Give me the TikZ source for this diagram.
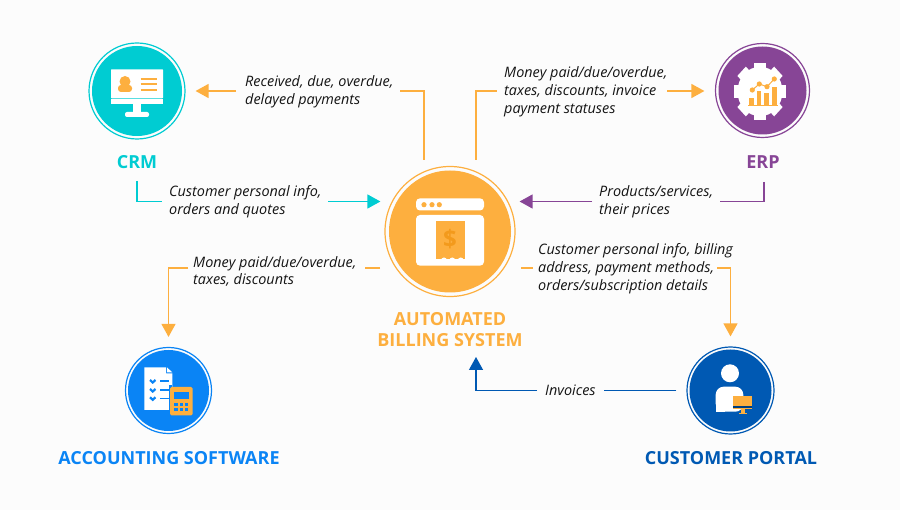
\documentclass[tikz,border=0pt]{standalone}
\usepackage{fontspec}
\setmainfont{Open Sans}
\usetikzlibrary{arrows.meta, positioning, calc}
\definecolor{bgcol}{HTML}{FCFCFC}
\definecolor{cyancol}{HTML}{00CCD2}
\definecolor{orangecol}{HTML}{FDAF3F}
\definecolor{darkorange}{HTML}{F39A1C}
\definecolor{purplecol}{HTML}{874596}
\definecolor{bluecol}{HTML}{0A84F5}
\definecolor{navycol}{HTML}{0059B3}

\begin{document}
\begin{tikzpicture}[x=1pt, y=-1pt]
        \tikzstyle{hub} = [circle, inner sep=0pt, line width=1.2pt, fill=bgcol]
        \tikzstyle{lbl} = [anchor=west, align=left, inner sep=0pt, font=\fontsize{14.4}{17.8}\selectfont\itshape, text=black!92]
        \tikzstyle{title} = [align=center, inner sep=0pt, font=\fontsize{18}{21}\selectfont\bfseries]
        \tikzstyle{flow} = [line width=1.3pt]
        \tikzstyle{arrow} = [line width=1.3pt, -{Triangle[length=13pt,width=14pt]}]

        \useasboundingbox (0,0) rectangle (900,510);
        \fill[bgcol] (0,0) rectangle (900,510);

        % hubs
        \node (crm) [hub, draw=cyancol, minimum size=96pt] at (137,91) {};
        \node (erp) [hub, draw=purplecol, minimum size=94pt] at (762.5,90.5) {};
        \node (abs) [hub, draw=orangecol, minimum size=130pt] at (450,231.5) {};
        \node (acc) [hub, draw=bluecol, minimum size=86pt] at (168.5,390.5) {};
        \node (portal) [hub, draw=navycol, minimum size=87pt] at (730.5,390.5) {};
        \fill[cyancol] (crm) circle (45);
        \fill[purplecol] (erp) circle (44);
        \fill[orangecol] (abs) circle (61);
        \fill[bluecol] (acc) circle (40.5);
        \fill[navycol] (portal) circle (41);

        % titles
        \node (crmtitle) [title, text=cyancol] at (137,162.5) {CRM};
        \node (erptitle) [title, text=purplecol] at (763,162.5) {ERP};
        \node (abstitle) [title, text=orangecol] at (450,330) {AUTOMATED\\BILLING SYSTEM};
        \node (acctitle) [title, text=bluecol] at (169,458) {ACCOUNTING SOFTWARE};
        \node (portaltitle) [title, text=navycol] at (731,458) {CUSTOMER PORTAL};

        % labels
        \node (lblcrm) [lbl] at (245,92) {Received, due, overdue,\\delayed payments};
        \node (lblerp) [lbl] at (504,92) {Money paid/due/overdue,\\taxes, discounts, invoice\\payment statuses};
        \node (lblcust) [lbl] at (169,202) {Customer personal info,\\orders and quotes};
        \node (lblprod) [lbl] at (599,202) {Products/services,\\their prices};
        \node (lblacc) [lbl] at (193,271.5) {Money paid/due/overdue,\\taxes, discounts};
        \node (lblportal) [lbl] at (538,269) {Customer personal info, billing\\address, payment methods,\\orders/subscription details};
        \node (lblinv) [lbl] at (545,390) {Invoices};

        % line ends beside the labels
        \coordinate (a1) at (424,160);
        \coordinate (a2) at (400,91);
        \coordinate (a3) at (236,91);
        \coordinate (b1) at (476,160);
        \coordinate (b2) at (497,91);
        \coordinate (b3) at (667,91);
        \coordinate (c1) at (137,181);
        \coordinate (c2) at (161.5,201.5);
        \coordinate (c3) at (328,201.5);
        \coordinate (d1) at (764,182);
        \coordinate (d2) at (720,201.5);
        \coordinate (d3) at (592,201.5);
        \coordinate (e1) at (380,268);
        \coordinate (e2) at (365,268);
        \coordinate (e3) at (188,268);
        \coordinate (f1) at (521,268);
        \coordinate (f2) at (533,268);
        \coordinate (f3) at (717,268);
        \coordinate (g1) at (604,390.5);
        \coordinate (g2) at (537,390.5);
        \coordinate (g3) at (476,357);

        % connectors
        \draw [flow, orangecol] (a1) |- (a2);
        \draw [arrow, orangecol, shorten >=10pt] (a3) -- (crm.east);
        \draw [flow, orangecol] (b1) |- (b2);
        \draw [arrow, orangecol, shorten >=10.5pt] (b3) -- (erp.west |- b3);
        \draw [flow, cyancol] (c1) |- (c2);
        \draw [arrow, cyancol, shorten >=4pt] (c3) -- (abs.west |- c3);
        \draw [flow, purplecol] (d1) |- (d2);
        \draw [arrow, purplecol, shorten >=4pt] (d3) -- (abs.east |- d3);
        \draw [flow, orangecol] (e1) -- (e2);
        \draw [arrow, orangecol, shorten >=10pt] (e3) -| (acc.north);
        \draw [flow, orangecol] (f1) -- (f2);
        \draw [arrow, orangecol, shorten >=10pt] (f3) -| (portal.north);
        \draw [flow, navycol, shorten <=10pt] (portal.west) -- (g1);
        \draw [arrow, navycol] (g2) -| (g3);

        % crm icon
        \fill[white, rounded corners=0.7pt] (111,69.3) rectangle (163,98.3);
        \fill[white] (111,99.4) rectangle (163,104);
        \fill[white] (132.7,104) rectangle (141.3,113);
        \fill[white, rounded corners=2pt] (125,112) rectangle (149,117);
        \fill[orangecol] (125,81.5) circle (5.5);
        \fill[orangecol, rounded corners=3pt] (118,92) -- (118,85) -- (132,85) -- (132,92) -- cycle;
        \foreach \y in {79,84.5,90.3}
            \draw[orangecol, line width=2pt] (140.7,\y) -- (156.7,\y);

        % erp icon
        \begin{scope}[shift={(760,91.5)}, yscale=1.1]
            \fill[white] (0,0) circle (22.5);
            \foreach \a in {0,45,...,315}
                \fill[white, rotate=\a] (-6,-26) rectangle (6,-15);
        \end{scope}
        \fill[orangecol] (749.3,98.3) rectangle (754,105);
        \fill[orangecol] (756.7,91) rectangle (761.3,105);
        \fill[orangecol] (764,93.3) rectangle (769.3,105);
        \fill[orangecol] (771.7,86.7) rectangle (776.7,105);
        \draw[orangecol, line width=1pt] (748,105.7) -- (777.7,105.7);
        \draw[orangecol, line width=1pt] (752.3,90) -- (759.3,84) -- (767,86.7) -- (774.3,79);
        \foreach \p in {(752.3,90),(759.3,84),(767,86.7),(774.3,79)}
            \fill[orangecol] \p circle (2.6);

        % billing icon
        \fill[white, rounded corners=4pt] (416,198.3) -- (484,198.3) -- (484,210.5) -- (416,210.5) -- cycle;
        \fill[white, rounded corners=4pt] (416,215) -- (484,215) -- (484,265.7) -- (416,265.7) -- cycle;
        \foreach \x in {424,432,439.3}
            \fill[orangecol] (\x,204.7) circle (2.6);
        \fill[orangecol] (435.7,221) rectangle (464.7,259.5);
        \foreach \x in {444,452.3,460.7}
            \fill[white] (\x,260.5) circle (3);
        \node (dollar) [inner sep=0pt, text=darkorange, font=\fontsize{24}{24}\selectfont\bfseries] at (450,239.5) {\$};

        % accounting icon
        \fill[white] (144.3,367.3) -- (166,367.3) -- (166,373.5) -- (172.3,373.5) -- (172.3,410) -- (144.3,410) -- cycle;
        \fill[white] (167,367.3) -- (172.3,372.5) -- (167,372.5) -- cycle;
        \foreach \y in {381,390,398.3} {
            \draw[bluecol, line width=2.2pt] (150,\y-1) -- (152.7,\y+1.5) -- (155.5,\y-1);
            \draw[bluecol, line width=1.5pt] (160,\y) -- (169,\y);
        }
        \fill[bluecol] (168.7,385.5) rectangle (172.3,410.5);
        \fill[orangecol, rounded corners=1.5pt] (170,387) rectangle (192.7,415.3);
        \fill[bluecol] (174,391.7) rectangle (189.3,399.3);
        \foreach \x in {176,181.3,186.7}
            \foreach \y in {404.3,409.7}
                \fill[bluecol] (\x-1.7,\y-1.7) rectangle (\x+1.7,\y+1.7);

        % portal icon
        \fill[white] (730,373.3) circle (9);
        \fill[white, rounded corners=8pt] (715.7,411.7) -- (715.7,386.7) -- (743.3,386.7) -- (743.3,411.7) -- cycle;
        \fill[white] (715.7,404) rectangle (725,411.7);
        \fill[orangecol] (733,396) rectangle (752.3,409);
        \fill[navycol!70!black] (733,406.3) rectangle (752.3,407.6);
        \fill[orangecol] (741,409) rectangle (745,413);
        \fill[orangecol] (739,413) rectangle (747.3,414.3);
    \end{tikzpicture}
\end{document}
